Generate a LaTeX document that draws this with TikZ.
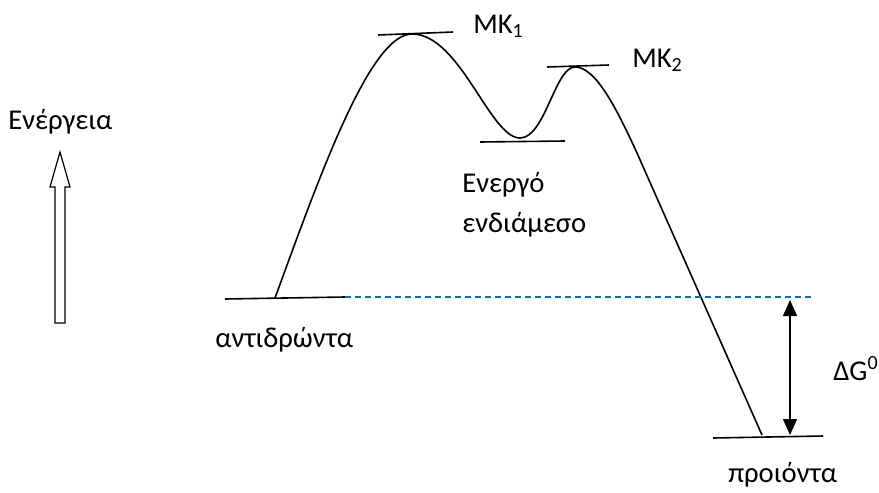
\documentclass[tikz,border=0pt]{standalone}
\usepackage{fontspec}
\setmainfont{Carlito}
\usetikzlibrary{arrows.meta,calc}

\begin{document}
\begin{tikzpicture}[
  x=0.75pt,y=-0.75pt,
  >={Triangle[width=10.5pt,length=12pt]},
  font=\fontsize{21.5}{26}\selectfont,
  level/.style={line width=1.2pt},
  path/.style={line width=1.2pt},
  label/.style={inner sep=0pt,anchor=base west}
]
\definecolor{refline}{RGB}{0,112,192}
\useasboundingbox (0,0) rectangle (879,493);

% Energy levels and the path between them.
\coordinate (R1) at (225,299);
\coordinate (R2) at (345,297);
\coordinate (Rs) at (275,298);
\coordinate (T1) at (412,34);
\coordinate (I)  at (520,138);
\coordinate (T2) at (575,67);
\coordinate (Pe) at (762,435);
\coordinate (P1) at (713,438);
\coordinate (P2) at (823,436);
\coordinate (Dr) at (815,297);

\draw[level] (R1) -- (R2);
\draw[level] (378,35) -- (453,32);
\draw[level] (480,142) -- (565,141);
\draw[level] (547,67) -- (609,65);
\draw[level] (P1) -- (P2);

\draw[path] (Rs) .. controls (320,175) and (370,34) .. (T1)
  .. controls (460,34) and (490,138) .. (I)
  .. controls (545,138) and (555,67) .. (T2)
  .. controls (595,67) and (615,105) .. (637,153) -- (Pe);

% Reference level of the reactants.
\draw[refline,line width=1.1pt,dash pattern=on 4.5pt off 3pt] (R2) -- (Dr);

% Free energy difference.
\coordinate (G1) at (790,300);
\coordinate (G2) at (790,435);
\draw[<->,line width=1.1pt] (G1) -- (G2);
\node[label] (dG) at (833,380) {ΔG\textsuperscript{0}};

% Energy axis as a hollow block arrow.
\draw[line width=0.9pt] (55,323) -- (55,187) -- (50,187) -- (60,152)
  -- (70,187) -- (65,187) -- (65,323) -- cycle;
\node[label] (energy) at (8,129) {Ενέργεια};

% Labels.
\node[label] (ts1) at (473,33) {MK\textsubscript{1}};
\node[label] (ts2) at (632,67) {MK\textsubscript{2}};
\node[label] (inter1) at (462,192) {Ενεργό};
\node[label] (inter2) at (462,232) {ενδιάμεσο};
\node[label] (react) at (215,347) {αντιδρώντα};
\node[label] (prod) at (728,482) {προιόντα};
\end{tikzpicture}
\end{document}
